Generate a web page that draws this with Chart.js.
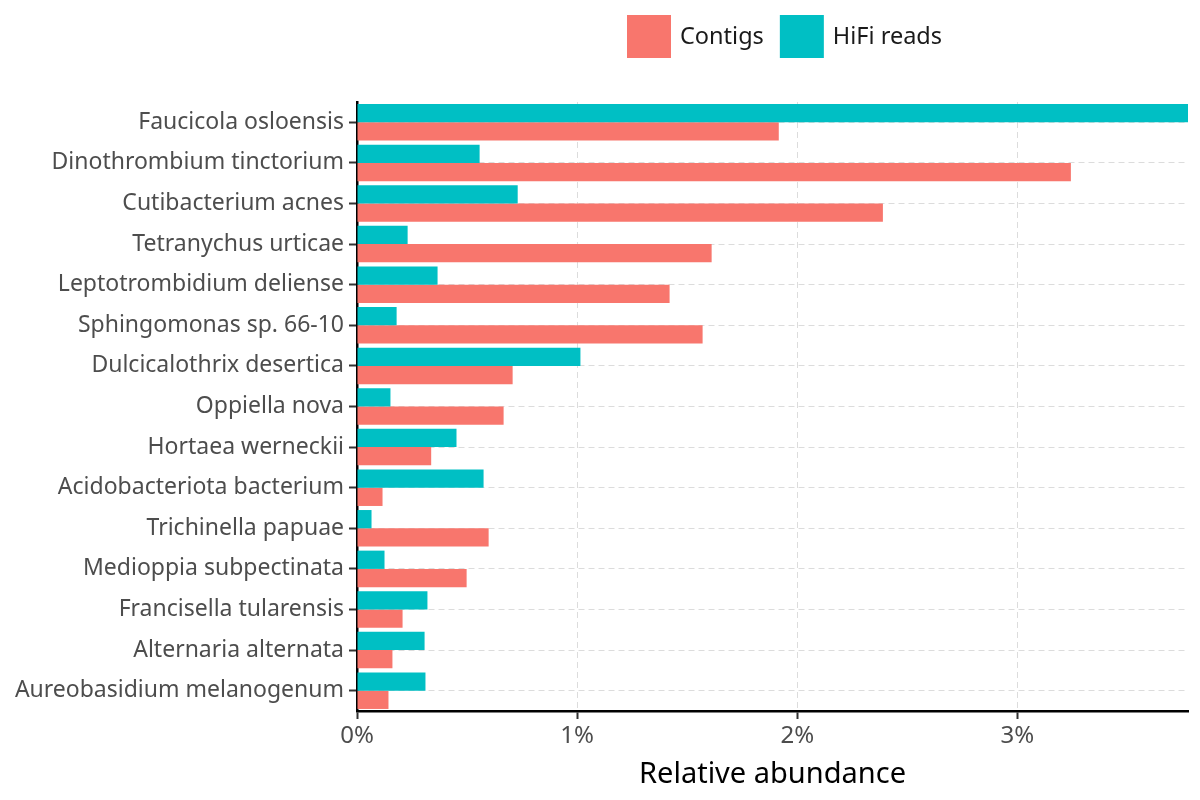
<!DOCTYPE html>
<html>
<head>
<meta charset="utf-8">
<title>Relative abundance</title>
<script src="https://cdn.jsdelivr.net/npm/chart.js@4"></script>
<style>
  html, body { margin: 0; padding: 0; background: #fff; }
  #wrap { width: 1200px; height: 800px; }
</style>
</head>
<body>
<div id="wrap"><canvas id="chart" width="1200" height="800"></canvas></div>
<script>
// ---- Data (values in %) ----
const species = [
  'Faucicola osloensis', 'Dinothrombium tinctorium', 'Cutibacterium acnes',
  'Tetranychus urticae', 'Leptotrombidium deliense', 'Sphingomonas sp. 66-10',
  'Dulcicalothrix desertica', 'Oppiella nova', 'Hortaea werneckii',
  'Acidobacteriota bacterium', 'Trichinella papuae', 'Medioppia subpectinata',
  'Francisella tularensis', 'Alternaria alternata', 'Aureobasidium melanogenum'
];
const hifiReads = [3.95, 0.557, 0.730, 0.230, 0.366, 0.180, 1.015, 0.152, 0.452, 0.575, 0.066, 0.125, 0.320, 0.307, 0.311];
const contigs   = [1.916, 3.243, 2.389, 1.611, 1.420, 1.570, 0.707, 0.666, 0.337, 0.116, 0.598, 0.498, 0.207, 0.161, 0.143];
const xTicks = [0, 1, 2, 3];
const xMax = 3.775;

// ---- Styling ----
const cContigs = '#F8766D';
const cHifi = '#00BFC4';
const fontFamily = "'Noto Sans', 'DejaVu Sans', sans-serif";
const gridStyle = {
  color: '#dcdcdc',
  lineWidth: 1,
  tickBorderDash: [],
  tickColor: '#333333',
  tickWidth: 2,
  tickLength: 8
};
// in v4 border.dash dashes the grid lines, not the axis line
const borderStyle = { display: true, color: '#000', width: 2.5, dash: [6, 4] };

// legend drawn above the panel, contigs first like the original
const legendPlugin = {
  id: 'topLegend',
  afterDraw(chart) {
    const ctx = chart.ctx;
    const items = chart.data.datasets.slice().reverse();
    let x = 627;
    const y = 15, box = 44;
    ctx.save();
    ctx.font = `23.5px ${fontFamily}`;
    ctx.textBaseline = 'middle';
    items.forEach(ds => {
      ctx.fillStyle = ds.backgroundColor;
      ctx.fillRect(x, y, box, box - 1);
      x += box + 9;
      ctx.fillStyle = '#1a1a1a';
      ctx.fillText(ds.label, x, y + box / 2);
      x += ctx.measureText(ds.label).width + 16;
    });
    ctx.restore();
  }
};

new Chart(document.getElementById('chart'), {
  type: 'bar',
  data: {
    labels: species,
    datasets: [
      { label: 'HiFi reads', data: hifiReads, backgroundColor: cHifi },
      { label: 'Contigs', data: contigs, backgroundColor: cContigs }
    ]
  },
  options: {
    indexAxis: 'y',
    responsive: false,
    animation: false,
    devicePixelRatio: 1,
    categoryPercentage: 0.9,
    barPercentage: 1.0,
    layout: { padding: { top: 102, right: 12, bottom: 0, left: 0 } },
    plugins: {
      legend: { display: false },
      tooltip: { enabled: false }
    },
    scales: {
      x: {
        type: 'linear',
        min: 0,
        max: xMax,
        afterBuildTicks: scale => { scale.ticks = xTicks.map(v => ({ value: v })); },
        afterFit: scale => { scale.height = 89; },
        grid: gridStyle,
        border: borderStyle,
        ticks: {
          includeBounds: false,
          padding: 3,
          color: '#4d4d4d',
          font: { family: fontFamily, size: 24 },
          callback: v => v + '%'
        },
        title: {
          display: true,
          text: 'Relative abundance',
          color: '#000',
          font: { family: fontFamily, size: 29 },
          padding: { top: 4, bottom: 8 }
        }
      },
      y: {
        afterFit: scale => { scale.width = 357; },
        grid: Object.assign({}, gridStyle, { offset: false }),
        border: borderStyle,
        ticks: {
          padding: 5,
          color: '#4d4d4d',
          font: { family: fontFamily, size: 23 }
        }
      }
    }
  },
  plugins: [legendPlugin]
});
</script>
</body>
</html>
